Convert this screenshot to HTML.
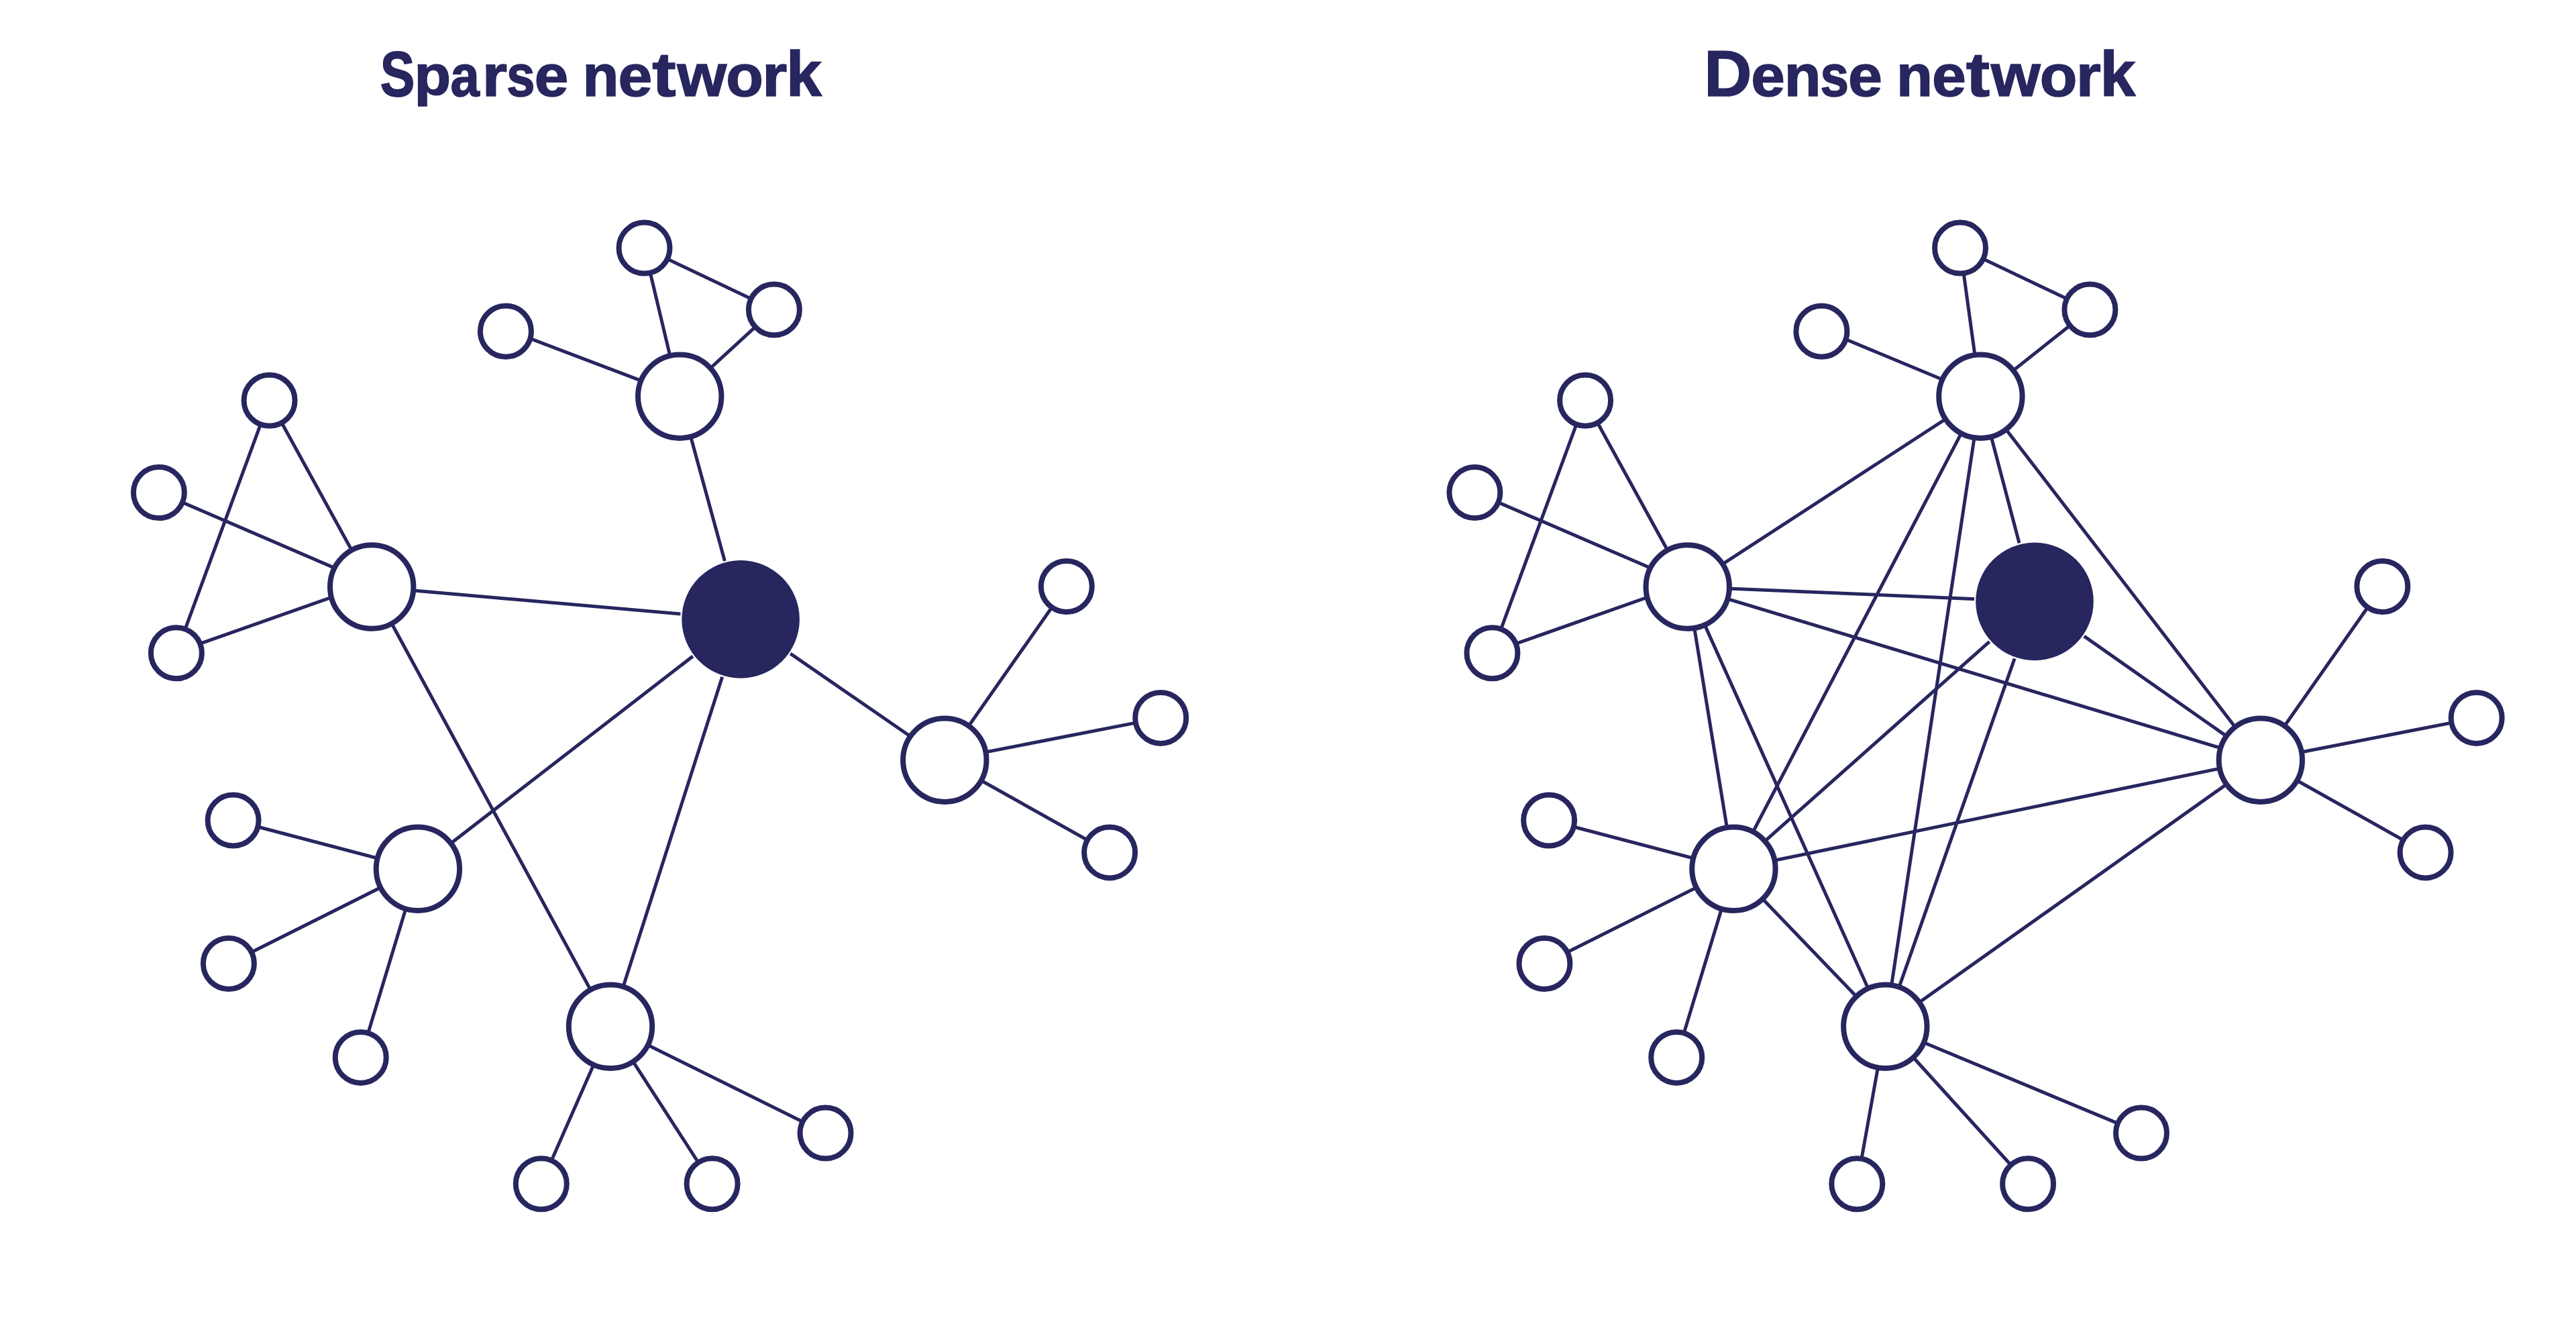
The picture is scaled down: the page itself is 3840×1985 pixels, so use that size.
<!DOCTYPE html>
<html><head><meta charset="utf-8"><style>
html,body{margin:0;padding:0;background:#fff;width:3840px;height:1985px;overflow:hidden}
svg{position:absolute;left:0;top:0}
.t{position:absolute;top:0;font-family:"Liberation Sans",sans-serif;font-weight:bold;color:#27265f;white-space:nowrap;line-height:1}
</style></head><body>
<svg width="3840" height="1985" viewBox="0 0 3840 1985">
<g font-family="'Liberation Sans', sans-serif" font-weight="bold" font-size="100" fill="#27265f" stroke="#27265f" stroke-width="1.6">
<text vector-effect="non-scaling-stroke" transform="matrix(0.7728 0 0 0.9506 566.77 142.77)">S</text>
<text vector-effect="non-scaling-stroke" transform="matrix(0.8930 0 0 0.8393 617.61 141.48)">p</text>
<text vector-effect="non-scaling-stroke" transform="matrix(0.7783 0 0 0.8670 671.42 142.85)">a</text>
<text vector-effect="non-scaling-stroke" transform="matrix(0.9575 0 0 0.8727 718.79 143.20)">r</text>
<text vector-effect="non-scaling-stroke" transform="matrix(0.7584 0 0 0.8663 755.13 142.85)">s</text>
<text vector-effect="non-scaling-stroke" transform="matrix(0.9091 0 0 0.8670 796.85 142.85)">e</text>
<text vector-effect="non-scaling-stroke" transform="matrix(0.8822 0 0 0.8727 868.59 143.20)">n</text>
<text vector-effect="non-scaling-stroke" transform="matrix(0.9132 0 0 0.8670 921.43 142.85)">e</text>
<text vector-effect="non-scaling-stroke" transform="matrix(1.0629 0 0 0.9302 972.30 142.88)">t</text>
<text vector-effect="non-scaling-stroke" transform="matrix(0.9454 0 0 0.8896 1009.38 143.20)">w</text>
<text vector-effect="non-scaling-stroke" transform="matrix(0.9104 0 0 0.8670 1082.24 142.85)">o</text>
<text vector-effect="non-scaling-stroke" transform="matrix(0.9510 0 0 0.8727 1136.33 143.20)">r</text>
<text vector-effect="non-scaling-stroke" transform="matrix(0.9501 0 0 0.9440 1172.07 143.20)">k</text>
<text vector-effect="non-scaling-stroke" transform="matrix(0.9849 0 0 0.9651 2540.31 143.00)">D</text>
<text vector-effect="non-scaling-stroke" transform="matrix(0.9070 0 0 0.8670 2610.16 142.85)">e</text>
<text vector-effect="non-scaling-stroke" transform="matrix(0.8966 0 0 0.8727 2659.79 143.20)">n</text>
<text vector-effect="non-scaling-stroke" transform="matrix(0.7625 0 0 0.8663 2713.62 142.85)">s</text>
<text vector-effect="non-scaling-stroke" transform="matrix(0.9153 0 0 0.8670 2754.92 142.85)">e</text>
<text vector-effect="non-scaling-stroke" transform="matrix(0.8822 0 0 0.8727 2827.09 143.20)">n</text>
<text vector-effect="non-scaling-stroke" transform="matrix(0.9132 0 0 0.8670 2879.93 142.85)">e</text>
<text vector-effect="non-scaling-stroke" transform="matrix(1.0629 0 0 0.9302 2930.80 142.88)">t</text>
<text vector-effect="non-scaling-stroke" transform="matrix(0.9454 0 0 0.8896 2967.88 143.20)">w</text>
<text vector-effect="non-scaling-stroke" transform="matrix(0.9104 0 0 0.8670 3040.74 142.85)">o</text>
<text vector-effect="non-scaling-stroke" transform="matrix(0.9510 0 0 0.8727 3094.83 143.20)">r</text>
<text vector-effect="non-scaling-stroke" transform="matrix(0.9501 0 0 0.9440 3130.57 143.20)">k</text>
</g>
<g stroke="#27265f" stroke-width="5">
<line x1="960.5" y1="369.6" x2="1153.9" y2="461.5"/>
<line x1="960.5" y1="369.6" x2="1013.2" y2="590.7"/>
<line x1="1153.9" y1="461.5" x2="1013.2" y2="590.7"/>
<line x1="753.9" y1="490.7" x2="1013.2" y2="589.2"/>
<line x1="1013.2" y1="590.7" x2="1104.1" y2="922.9"/>
<line x1="401.6" y1="596.7" x2="554.2" y2="874.5"/>
<line x1="401.6" y1="596.7" x2="262.9" y2="973.2"/>
<line x1="236.9" y1="733.6" x2="554.2" y2="870.2"/>
<line x1="554.2" y1="869" x2="262.9" y2="971.7"/>
<line x1="554.2" y1="874.5" x2="1104.1" y2="922.9"/>
<line x1="554.2" y1="874.5" x2="910" y2="1529.8"/>
<line x1="1104.1" y1="922.9" x2="1408.3" y2="1132.7"/>
<line x1="1104.1" y1="922.9" x2="622.9" y2="1294.8"/>
<line x1="1104.1" y1="922.9" x2="910" y2="1529.8"/>
<line x1="1408.3" y1="1132.7" x2="1589.8" y2="874"/>
<line x1="1408.3" y1="1132.7" x2="1730.2" y2="1069.9"/>
<line x1="1408.3" y1="1132.7" x2="1654.1" y2="1270.4"/>
<line x1="347.6" y1="1222.5" x2="622.9" y2="1294.8"/>
<line x1="622.9" y1="1294.8" x2="340.9" y2="1436"/>
<line x1="622.9" y1="1294.8" x2="537.7" y2="1575.9"/>
<line x1="910" y1="1529.8" x2="1230.5" y2="1688.6"/>
<line x1="910" y1="1529.8" x2="806.8" y2="1764.3"/>
<line x1="910" y1="1529.8" x2="1061.6" y2="1764.3"/>
</g>
<g fill="#fff" stroke="#27265f" stroke-width="8">
<circle cx="960.5" cy="369.6" r="38"/>
<circle cx="1153.9" cy="461.5" r="38"/>
<circle cx="753.9" cy="493.7" r="38"/>
<circle cx="1013.2" cy="590.7" r="62.2"/>
<circle cx="401.6" cy="596.7" r="38"/>
<circle cx="236.9" cy="734.1" r="38"/>
<circle cx="554.2" cy="874.5" r="62.2"/>
<circle cx="262.9" cy="973.2" r="38"/>
<circle cx="1589.8" cy="874" r="38"/>
<circle cx="1730.2" cy="1069.9" r="38"/>
<circle cx="1408.3" cy="1132.7" r="62.2"/>
<circle cx="1654.1" cy="1270.4" r="38"/>
<circle cx="347.6" cy="1222.5" r="38"/>
<circle cx="622.9" cy="1294.8" r="62.2"/>
<circle cx="340.9" cy="1436" r="38"/>
<circle cx="537.7" cy="1575.9" r="38"/>
<circle cx="910" cy="1529.8" r="62.2"/>
<circle cx="1230.5" cy="1688.6" r="38"/>
<circle cx="806.8" cy="1764.3" r="38"/>
<circle cx="1061.6" cy="1764.3" r="38"/>
</g>
<circle cx="1104.1" cy="922.9" r="90.1" fill="#fff"/>
<circle cx="1104.1" cy="922.9" r="87.8" fill="#27265f"/>
<g stroke="#27265f" stroke-width="5">
<line x1="2922" y1="369.6" x2="3115.4" y2="461.5"/>
<line x1="2922" y1="369.6" x2="2952.4" y2="590.7"/>
<line x1="3115.4" y1="461.5" x2="2952.4" y2="590.7"/>
<line x1="2715.4" y1="490.7" x2="2952.4" y2="589.2"/>
<line x1="2363.1" y1="596.7" x2="2515.7" y2="874.5"/>
<line x1="2363.1" y1="596.7" x2="2224.4" y2="973.2"/>
<line x1="2198.4" y1="733.6" x2="2515.7" y2="870.2"/>
<line x1="2515.7" y1="869" x2="2224.4" y2="971.7"/>
<line x1="2952.4" y1="590.7" x2="2515.7" y2="874.5"/>
<line x1="2952.4" y1="590.7" x2="2584.4" y2="1294.8"/>
<line x1="2952.4" y1="590.7" x2="2810.3" y2="1529.8"/>
<line x1="2952.4" y1="590.7" x2="3369.8" y2="1132.7"/>
<line x1="2952.4" y1="590.7" x2="3033" y2="896.4"/>
<line x1="2515.7" y1="874.5" x2="3033" y2="896.4"/>
<line x1="2515.7" y1="874.5" x2="3369.8" y2="1132.7"/>
<line x1="2515.7" y1="874.5" x2="2584.4" y2="1294.8"/>
<line x1="2515.7" y1="874.5" x2="2810.3" y2="1529.8"/>
<line x1="3033" y1="896.4" x2="2584.4" y2="1294.8"/>
<line x1="3033" y1="896.4" x2="2810.3" y2="1529.8"/>
<line x1="3033" y1="896.4" x2="3369.8" y2="1132.7"/>
<line x1="2584.4" y1="1294.8" x2="3369.8" y2="1132.7"/>
<line x1="2584.4" y1="1294.8" x2="2810.3" y2="1529.8"/>
<line x1="2810.3" y1="1529.8" x2="3369.8" y2="1132.7"/>
<line x1="3369.8" y1="1132.7" x2="3551.3" y2="874"/>
<line x1="3369.8" y1="1132.7" x2="3691.7" y2="1069.9"/>
<line x1="3369.8" y1="1132.7" x2="3615.6" y2="1270.4"/>
<line x1="2309.1" y1="1222.5" x2="2584.4" y2="1294.8"/>
<line x1="2584.4" y1="1294.8" x2="2302.4" y2="1436"/>
<line x1="2584.4" y1="1294.8" x2="2499.2" y2="1575.9"/>
<line x1="2810.3" y1="1529.8" x2="3192" y2="1688.6"/>
<line x1="2810.3" y1="1529.8" x2="2768.3" y2="1764.3"/>
<line x1="2810.3" y1="1529.8" x2="3023.1" y2="1764.3"/>
</g>
<g fill="#fff" stroke="#27265f" stroke-width="8">
<circle cx="2922" cy="369.6" r="38"/>
<circle cx="3115.4" cy="461.5" r="38"/>
<circle cx="2715.4" cy="493.7" r="38"/>
<circle cx="2952.4" cy="590.7" r="62.2"/>
<circle cx="2363.1" cy="596.7" r="38"/>
<circle cx="2198.4" cy="734.1" r="38"/>
<circle cx="2515.7" cy="874.5" r="62.2"/>
<circle cx="2224.4" cy="973.2" r="38"/>
<circle cx="3551.3" cy="874" r="38"/>
<circle cx="3691.7" cy="1069.9" r="38"/>
<circle cx="3369.8" cy="1132.7" r="62.2"/>
<circle cx="3615.6" cy="1270.4" r="38"/>
<circle cx="2309.1" cy="1222.5" r="38"/>
<circle cx="2584.4" cy="1294.8" r="62.2"/>
<circle cx="2302.4" cy="1436" r="38"/>
<circle cx="2499.2" cy="1575.9" r="38"/>
<circle cx="2810.3" cy="1529.8" r="62.2"/>
<circle cx="3192" cy="1688.6" r="38"/>
<circle cx="2768.3" cy="1764.3" r="38"/>
<circle cx="3023.1" cy="1764.3" r="38"/>
</g>
<circle cx="3033" cy="896.4" r="90.1" fill="#fff"/>
<circle cx="3033" cy="896.4" r="87.8" fill="#27265f"/>
</svg>
</body></html>
